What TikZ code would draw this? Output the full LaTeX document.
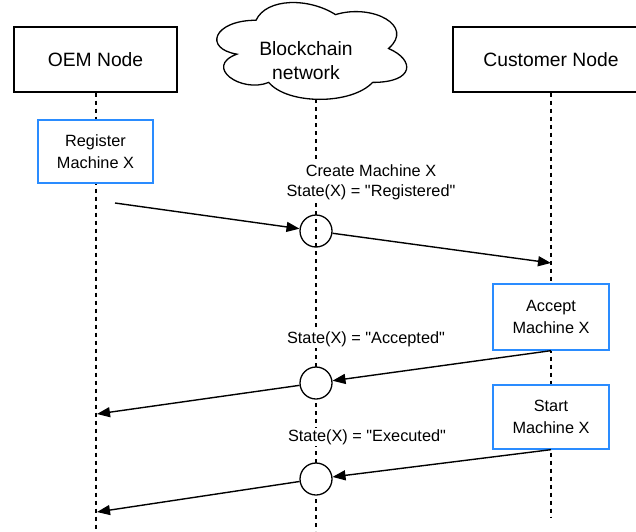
\documentclass[tikz,border=0pt]{standalone}
\usepackage{fontspec}
% keep plain straight double quotes (no TeX quote mapping)
\defaultfontfeatures{}
\defaultfontfeatures[\rmfamily]{}
\setmainfont{Liberation Sans}
\usetikzlibrary{arrows.meta}
\definecolor{actblue}{RGB}{42,140,255}
\begin{document}
\begin{tikzpicture}[x=1pt,y=-1pt,
  bigtext/.style={font=\fontsize{19.3}{24}\selectfont, align=center},
  smalltext/.style={font=\fontsize{16.3}{22.5}\selectfont, align=center},
  labeltext/.style={font=\fontsize{16.3}{20}\selectfont, align=center, inner sep=1.5pt, fill=white},
  partbox/.style={draw=black, line width=1.3pt, fill=white, rectangle, inner sep=0pt, bigtext},
  actbox/.style={draw=actblue, line width=1.3pt, fill=white, rectangle, inner sep=0pt, smalltext},
  lifeline/.style={draw=black, line width=1.3pt, dash pattern=on 4pt off 4pt},
  event/.style={draw=black, line width=1.3pt, circle, minimum size=32pt, inner sep=0pt},
  msg/.style={draw=black, line width=1.4pt, -{Triangle[length=13pt,width=10pt]}}
]
\useasboundingbox (0,0) rectangle (636,531);

% participants
\node[partbox, minimum width=163pt, minimum height=65pt] (oem) at (95.5,59.5) {OEM Node};
\node[partbox, minimum width=196pt, minimum height=65pt] (customer) at (551,59.5) {Customer Node};

% cloud (curve after the usual drawio cloud outline)
\def\cw{212}\def\ch{113}\def\cx{203}\def\cy{-8}
\draw[line width=1.3pt, fill=white]
  ({\cx+0.25*\cw},{\cy+0.25*\ch})
  .. controls ({\cx+0.05*\cw},{\cy+0.25*\ch}) and ({\cx},{\cy+0.5*\ch}) .. ({\cx+0.16*\cw},{\cy+0.55*\ch})
  .. controls ({\cx},{\cy+0.66*\ch}) and ({\cx+0.18*\cw},{\cy+0.9*\ch}) .. ({\cx+0.31*\cw},{\cy+0.8*\ch})
  .. controls ({\cx+0.4*\cw},{\cy+\ch}) and ({\cx+0.7*\cw},{\cy+\ch}) .. ({\cx+0.8*\cw},{\cy+0.8*\ch})
  .. controls ({\cx+\cw},{\cy+0.8*\ch}) and ({\cx+\cw},{\cy+0.6*\ch}) .. ({\cx+0.875*\cw},{\cy+0.5*\ch})
  .. controls ({\cx+\cw},{\cy+0.3*\ch}) and ({\cx+0.8*\cw},{\cy+0.1*\ch}) .. ({\cx+0.625*\cw},{\cy+0.2*\ch})
  .. controls ({\cx+0.5*\cw},{\cy+0.05*\ch}) and ({\cx+0.3*\cw},{\cy+0.05*\ch}) .. cycle;
\node[bigtext] (chain) at (306,60.5) {Blockchain\\network};
\coordinate (chainfoot) at (316,99);

% lifelines
\coordinate (oemend) at (96,531);
\coordinate (chainend) at (316,531);
\coordinate (custend) at (551,518);
\draw[lifeline] (oem.south -| oemend) -- (oemend);
\draw[lifeline] (chainfoot) -- (chainend);
\draw[lifeline] (customer.south) -- (custend);

% actions
\node[actbox, minimum width=115pt, minimum height=63pt] (register) at (95.5,151.5) {Register\\Machine X};
\node[actbox, minimum width=116pt, minimum height=66pt] (accept) at (551,317) {Accept\\Machine X};
\node[actbox, minimum width=116pt, minimum height=64pt] (start) at (551,417) {Start\\Machine X};

% blockchain events
\node[event] (ev1) at (316,231) {};
\node[event, fill=white] (ev2) at (316,383) {};
\node[event, fill=white] (ev3) at (316,479) {};

% state labels
\node[labeltext] (lab1) at (371,182) {Create Machine X\\State(X) = "Registered"};
\node[labeltext] (lab2) at (366,339) {State(X) = "Accepted"};
\node[labeltext] (lab3) at (367,437) {State(X) = "Executed"};

% messages
\coordinate (m1) at (115,203);
\coordinate (m2) at (551,263);
\coordinate (m4) at (97,414);
\coordinate (m6) at (97,512);
\draw[msg] (m1) -- (ev1);
\draw[msg] (ev1) -- (m2);
\draw[msg] (accept.south) -- (ev2);
\draw[msg] (ev2) -- (m4);
\draw[msg] (start.south) -- (ev3);
\draw[msg] (ev3) -- (m6);
\end{tikzpicture}
\end{document}
